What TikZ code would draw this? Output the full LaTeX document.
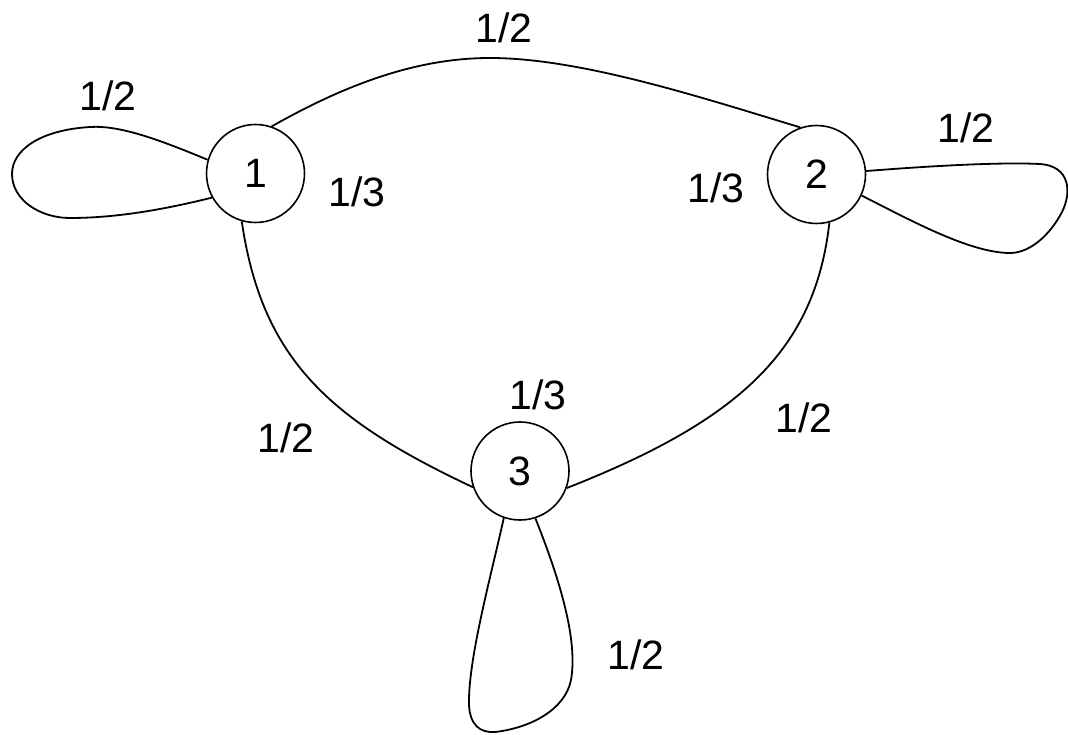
\documentclass[tikz,border=0pt]{standalone}
\usepackage{fontspec}
\setmainfont{Liberation Sans}
\begin{document}
\begin{tikzpicture}[x=1pt,y=-1pt,
  state/.style={circle,draw,line width=1.6pt,minimum size=98pt,inner sep=0pt,font=\fontsize{41}{41}\selectfont},
  lbl/.style={inner sep=0pt,font=\fontsize{41}{41}\selectfont},
  edge/.style={line width=1.8pt}]
\useasboundingbox (0,0) rectangle (1068,735);
\node[state] (n1) at (255.5,173.5) {1};
\node[state] (n2) at (816.5,174.5) {2};
\node[state] (n3) at (520,471) {3};

\node[lbl] (l12) at (504,28) {1/2};
\node[lbl] (l11) at (108,96) {1/2};
\node[lbl] (l13a) at (357,192) {1/3};
\node[lbl] (l23) at (716,188) {1/3};
\node[lbl] (l22) at (966,128) {1/2};
\node[lbl] (l33) at (538,395) {1/3};
\node[lbl] (l31) at (286,438) {1/2};
\node[lbl] (l32) at (804,418) {1/2};
\node[lbl] (l3) at (636,655) {1/2};

% 1 - 2
\draw[edge] (n1.71) .. controls (350,82) and (420,58) .. (490,58)
  .. controls (580,58) and (700,97) .. (n2.109);
% 1 - 3
\draw[edge] (n1.254) .. controls (262,360) and (330,420) .. (n3.199);
% 2 - 3
\draw[edge] (n2.285) .. controls (815,350) and (740,420) .. (n3.340);
% loop 1
\draw[edge] (n1.164) .. controls (160,140) and (120,125) .. (90,127)
  .. controls (40,130) and (12,150) .. (12,174)
  .. controls (12,200) and (40,218) .. (70,218)
  .. controls (120,218) and (170,208) .. (n1.209);
% loop 2
\draw[edge] (n2.4) .. controls (930,166) and (1000,162) .. (1040,164)
  .. controls (1070,166) and (1072,192) .. (1062,212)
  .. controls (1050,235) and (1030,253) .. (1010,253)
  .. controls (970,253) and (910,220) .. (n2.335);
% loop 3
\draw[edge] (n3.251) .. controls (490,580) and (468,660) .. (469,705)
  .. controls (470,725) and (480,733) .. (495,732)
  .. controls (530,728) and (565,710) .. (571,680)
  .. controls (578,640) and (560,580) .. (n3.288);
\end{tikzpicture}
\end{document}
